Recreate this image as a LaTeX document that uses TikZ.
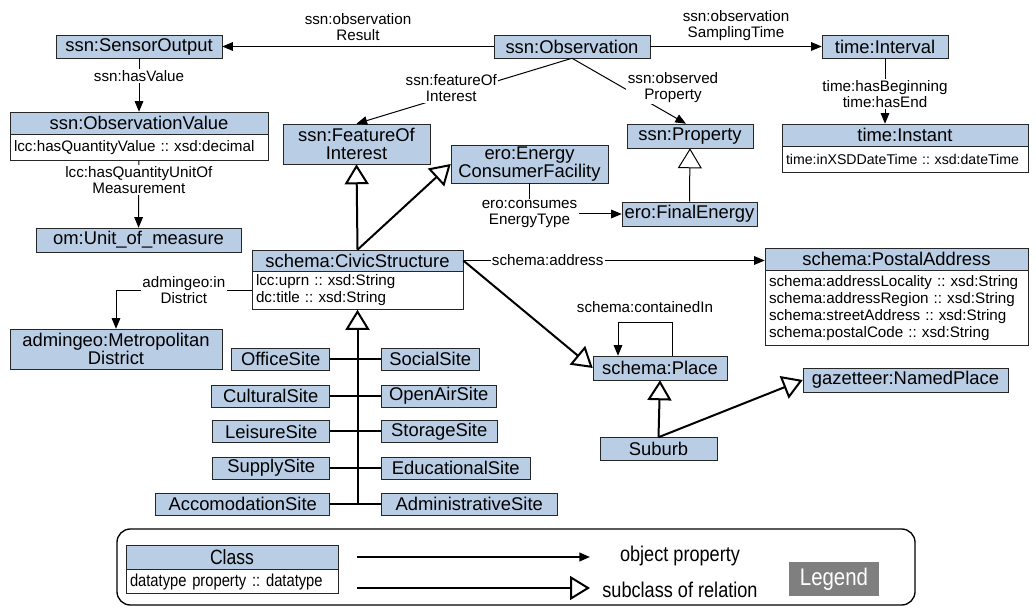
\documentclass[tikz,border=0pt]{standalone}
\usepackage{fontspec}
\setmainfont{Liberation Sans}
\newfontfamily\narrowfont[FakeStretch=0.85]{Liberation Sans}
\usetikzlibrary{arrows.meta,positioning}
\frenchspacing
\newlength\pxu
\setlength\pxu{0.75pt}
\definecolor{clsblue}{RGB}{185,205,229}
\definecolor{legendgrey}{RGB}{127,127,127}
\tikzset{
  cls/.style={draw=black!85, fill=clsblue, inner sep=1pt, align=center, font=\fontsize{13.8}{14}\selectfont},
  attr/.style={draw=black!85, fill=white, inner xsep=3pt, inner ysep=2pt, align=left, font=\fontsize{11.4}{12.75}\selectfont},
  site/.style={cls, minimum height=22\pxu},
  lbl/.style={fill=white, inner sep=1pt, align=center, font=\fontsize{11.4}{12}\selectfont},
  legtext/.style={font=\narrowfont\fontsize{16}{17}\selectfont},
  objprop/.style={-{Triangle[length=8pt,width=6.5pt]}, line width=0.75pt},
  subcls/.style={-{Triangle[open,length=15pt,width=18pt]}, line width=1.5pt},
}
\begin{document}
\begin{tikzpicture}[x=0.75pt,y=-0.75pt]
  \useasboundingbox (0,0) rectangle (1036,609);
  % classes
  \node[cls, minimum width=166\pxu, minimum height=23\pxu] (sensorout) at (139,46.5) {ssn:SensorOutput};
  \node[cls, minimum width=156\pxu, minimum height=23\pxu] (obs) at (572,46.5) {ssn:Observation};
  \node[cls, minimum width=126\pxu, minimum height=23\pxu] (interval) at (885,46.5) {time:Interval};
  \node[cls, minimum width=258\pxu, minimum height=22\pxu] (obsval) at (139,123) {ssn:ObservationValue};
  \node[attr, text width=187.5pt, minimum height=26\pxu, below=0pt of obsval] (obsvalattr) {lcc:hasQuantityValue :: xsd:decimal};
  \node[cls, minimum width=205\pxu, minimum height=24\pxu] (unit) at (138.5,240) {om:Unit\_of\_measure};
  \node[cls, minimum width=147\pxu, minimum height=40\pxu] (foi) at (356.5,144) {ssn:FeatureOf\\Interest};
  \node[cls, minimum width=157\pxu, minimum height=38\pxu] (ecf) at (529.5,164) {ero:Energy\\ConsumerFacility};
  \node[cls, minimum width=126\pxu, minimum height=24\pxu] (prop) at (690,136) {ssn:Property};
  \node[cls, minimum width=246\pxu, minimum height=22\pxu] (instant) at (905,135) {time:Instant};
  \node[attr, font=\fontsize{10.6}{12}\selectfont, text width=178.5pt, minimum height=26\pxu, below=0pt of instant] (instantattr) {time:inXSDDateTime :: xsd:dateTime};
  \node[cls, minimum width=135\pxu, minimum height=24\pxu] (finalen) at (689.5,214) {ero:FinalEnergy};
  \node[cls, minimum width=211\pxu, minimum height=21\pxu] (civic) at (357.5,260.5) {schema:CivicStructure};
  \node[attr, text width=152.25pt, minimum height=38\pxu, below=0pt of civic] (civicattr) {lcc:uprn :: xsd:String\\dc:title :: xsd:String};
  \node[cls, minimum width=263\pxu, minimum height=22\pxu] (postal) at (896.5,259) {schema:PostalAddress};
  \node[attr, text width=191.25pt, minimum height=75\pxu, below=0pt of postal] (postalattr) {schema:addressLocality :: xsd:String\\schema:addressRegion :: xsd:String\\schema:streetAddress :: xsd:String\\schema:postalCode :: xsd:String};
  \node[cls, minimum width=212\pxu, minimum height=40\pxu] (metro) at (116,349) {admingeo:Metropolitan\\District};
  \node[cls, minimum width=134\pxu, minimum height=24\pxu] (place) at (660,368) {schema:Place};
  \node[cls, minimum width=205\pxu, minimum height=24\pxu] (gaz) at (905.5,380) {gazetteer:NamedPlace};
  \node[cls, minimum width=117\pxu, minimum height=23\pxu] (suburb) at (658.5,449) {Suburb};
  % sites
  \node[site, minimum width=98\pxu, anchor=east] (office) at (330,359) {OfficeSite};
  \node[site, minimum width=118\pxu, anchor=east] (cultural) at (330,396) {CulturalSite};
  \node[site, minimum width=117\pxu, anchor=east] (leisure) at (330,431.5) {LeisureSite};
  \node[site, minimum width=117\pxu, anchor=east] (supply) at (330,468) {SupplySite};
  \node[site, minimum width=174\pxu, anchor=east] (accom) at (330,504) {AccomodationSite};
  \node[site, minimum width=98\pxu, anchor=west] (social) at (381,359) {SocialSite};
  \node[site, minimum width=115\pxu, anchor=west] (openair) at (381,396) {OpenAirSite};
  \node[site, minimum width=116\pxu, anchor=west] (storage) at (381,431.5) {StorageSite};
  \node[site, minimum width=149\pxu, anchor=west] (educ) at (381,468) {EducationalSite};
  \node[site, minimum width=176\pxu, anchor=west] (admin) at (381,504) {AdministrativeSite};
  % object properties
  \draw[objprop] (obs) -- node[lbl, above=3pt] {ssn:observation\\Result} (sensorout);
  \draw[objprop] (obs) -- node[lbl, above=3pt] {ssn:observation\\SamplingTime} (interval);
  \draw[objprop] (sensorout) -- node[lbl, pos=0.33] {ssn:hasValue} (obsval);
  \draw[objprop] (obsvalattr) -- node[lbl, pos=0.29] {lcc:hasQuantityUnitOf\\Measurement} (unit);
  \draw[objprop] (obs.south) -- node[lbl, pos=0.56, yshift=5pt] {ssn:featureOf\\Interest} (foi.north);
  \draw[objprop] (obs.south) -- node[lbl, pos=0.45, anchor=west, xshift=2pt] {ssn:observed\\Property} ([xshift=-4\pxu]prop.north);
  \draw[objprop] (interval.south) -- node[lbl, pos=0.55] {time:hasBeginning\\time:hasEnd} (interval.south |- instant.north);
  \draw[objprop] (ecf.south) |- node[lbl, pos=0.5] {ero:consumes\\EnergyType} (finalen.west);
  \draw[objprop] (civic.east) -- node[lbl, pos=0.28] {schema:address} (civic.east -| postal.west);
  \draw[objprop] ([xshift=12\pxu]place.north) -- ++(0,-33) -| node[lbl, pos=0.25, above=6pt] {schema:containedIn} ([xshift=-42\pxu]place.north);
  \draw[objprop] (civicattr.west) -| node[lbl, pos=0.25] {admingeo:in\\District} (metro.north);
  % subclass relations
  \draw[subcls] (civic.north) -- (foi.south);
  \draw[subcls] (civic.north) -- (ecf.west);
  \draw[subcls] (civic.east) -- (place.west);
  \draw[subcls, line width=0.75pt] (finalen.north) -- (prop.south);
  \draw[subcls] (suburb.north) -- (place.south);
  \draw[subcls] (suburb.north) -- (gaz.west);
  \coordinate (trunkend) at (357.5,504);
  \draw[subcls] (trunkend) -- (civicattr.south);
  \draw[line width=1.5pt] (office) -- (social);
  \draw[line width=1.5pt] (cultural) -- (openair);
  \draw[line width=1.5pt] (leisure) -- (storage);
  \draw[line width=1.5pt] (supply) -- (educ);
  \draw[line width=1.5pt] (accom) -- (admin);
  % legend
  \draw[line width=1pt, rounded corners=10pt] (117,529) rectangle (915,605);
  \node[cls, font=\narrowfont\fontsize{15.5}{16}\selectfont, minimum width=212\pxu, minimum height=24\pxu] (legclass) at (232,557) {Class};
  \node[attr, font=\narrowfont\fontsize{13}{14}\selectfont, text width=153pt, minimum height=24\pxu, below=0pt of legclass] (legattr) {datatype property :: datatype};
  \coordinate (objfrom) at (357,557);
  \coordinate (objto) at (590,557);
  \coordinate (subfrom) at (357,588);
  \coordinate (subto) at (590,588);
  \draw[objprop, line width=1.5pt] (objfrom) -- (objto);
  \draw[subcls] (subfrom) -- (subto);
  \node[legtext] (objtext) at (680,556) {object property};
  \node[legtext] (subtext) at (680,590) {subclass of relation};
  \node[fill=legendgrey, text=white, font=\narrowfont\fontsize{18}{19}\selectfont, minimum width=90\pxu, minimum height=34\pxu] (legend) at (834,579) {Legend};
\end{tikzpicture}
\end{document}
